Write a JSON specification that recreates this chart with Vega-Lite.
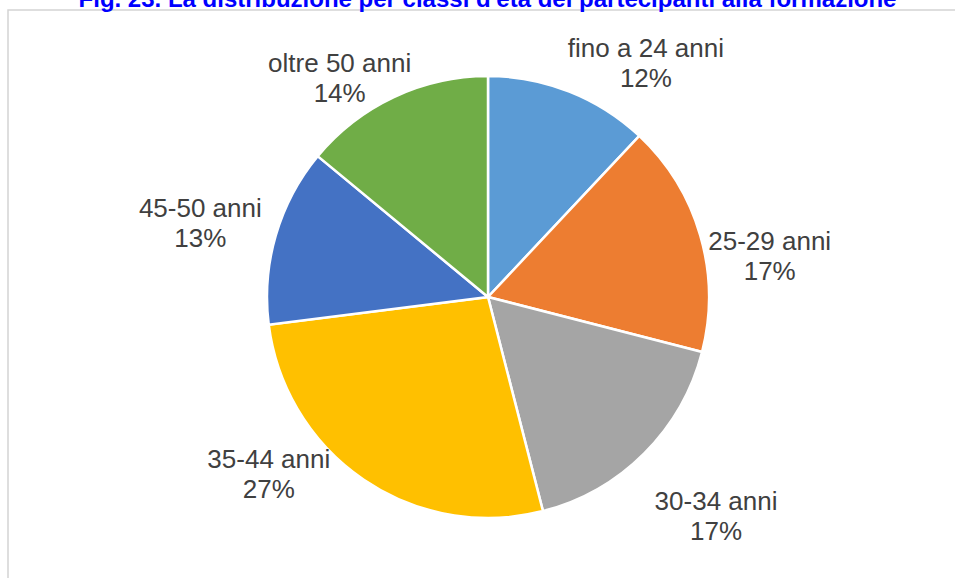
{
  "$schema": "https://vega.github.io/schema/vega-lite/v6.json",
  "width": 947,
  "height": 568,
  "autosize": "none",
  "padding": {"left": 8, "top": 10, "right": 0, "bottom": 0},
  "background": "white",
  "view": {"stroke": "#d4d4d4", "strokeWidth": 1.5, "strokeDash": [947, 1515, 568, 10]},
  "title": {
    "text": "Fig. 23. La distribuzione per classi d'età dei partecipanti alla formazione",
    "font": "Liberation Sans",
    "fontSize": 24,
    "fontWeight": "bold",
    "color": "#0000FF",
    "anchor": "middle",
    "offset": -21,
    "baseline": "alphabetic",
    "dx": 6
  },
  "data": {
    "values": [
      {"classe": "fino a 24 anni", "pct": 12, "ordine": 1},
      {"classe": "25-29 anni", "pct": 17, "ordine": 2},
      {"classe": "30-34 anni", "pct": 17, "ordine": 3},
      {"classe": "35-44 anni", "pct": 27, "ordine": 4},
      {"classe": "45-50 anni", "pct": 13, "ordine": 5},
      {"classe": "oltre 50 anni", "pct": 14, "ordine": 6}
    ]
  },
  "encoding": {
    "theta": {"field": "pct", "type": "quantitative", "stack": true},
    "order": {"field": "ordine", "type": "quantitative"}
  },
  "layer": [
    {
      "mark": {
        "type": "arc",
        "outerRadius": 221,
        "stroke": "white",
        "strokeWidth": 2.5,
        "x": {"expr": "width/2+6.5"},
        "y": {"expr": "height/2+3"}
      },
      "encoding": {
        "color": {
          "field": "classe",
          "type": "nominal",
          "scale": {
            "domain": ["fino a 24 anni", "25-29 anni", "30-34 anni", "35-44 anni", "45-50 anni", "oltre 50 anni"],
            "range": ["#5B9BD5", "#ED7D31", "#A5A5A5", "#FFC000", "#4472C4", "#70AD47"]
          },
          "legend": null
        }
      }
    },
    {
      "transform": [{"calculate": "datum.classe + '\\n' + datum.pct + '%'", "as": "lab"}],
      "mark": {
        "type": "text",
        "radius": 285,
        "font": "Liberation Sans",
        "fontSize": 26,
        "lineHeight": 30,
        "lineBreak": "\n",
        "fill": "#404040",
        "align": "center",
        "baseline": "alphabetic",
        "x": {"expr": "width/2+6.5"},
        "y": {"expr": "height/2+3"},
        "dx": {"expr": "[53,8,26.5,-59,-14,-27][datum.ordine-1]"},
        "dy": {"expr": "[25,32.5,11.5,-65,0,33][datum.ordine-1]"}
      },
      "encoding": {
        "text": {"field": "lab", "type": "nominal"},
        "detail": {"field": "classe", "type": "nominal"}
      }
    }
  ]
}
